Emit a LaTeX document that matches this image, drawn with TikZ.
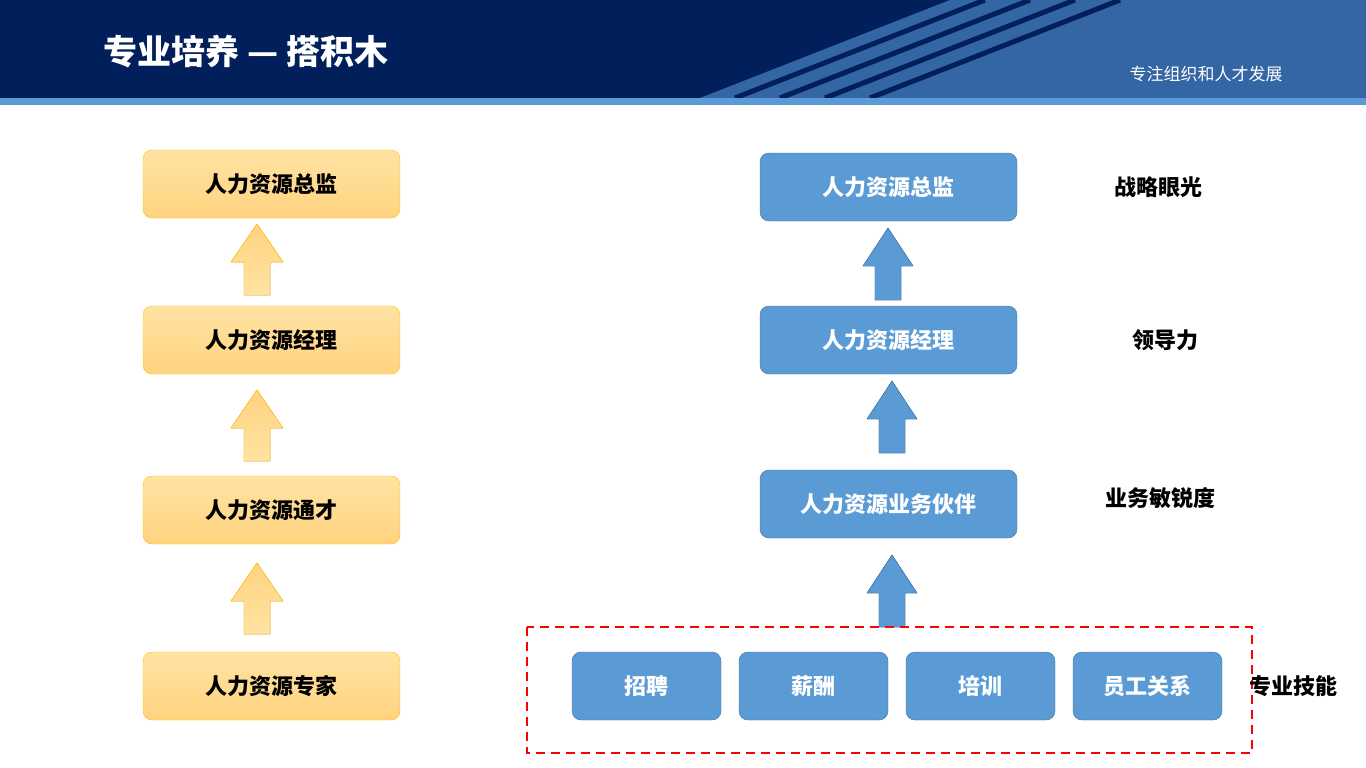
\documentclass[tikz,border=0pt]{standalone}
\usepackage{fontspec}
\setmainfont{Noto Sans CJK SC}
\usetikzlibrary{positioning}
\definecolor{navy}{HTML}{001F5B}
\definecolor{midblue}{HTML}{3465A4}
\definecolor{skyblue}{HTML}{5B9BD5}
\definecolor{boxblue}{HTML}{5B9BD5}
\definecolor{boxedge}{HTML}{41719C}
\definecolor{gold}{HTML}{FFC000}
\definecolor{ylight}{HTML}{FFE3A3}
\definecolor{ydark}{HTML}{FFD37F}
\tikzset{
  ybox/.style={draw=gold, rounded corners=9pt, top color=ylight, bottom color=ydark,
    minimum width=257pt, minimum height=68pt, font=\fontsize{22}{24}\selectfont\bfseries},
  bbox/.style={draw=boxedge, fill=boxblue, rounded corners=9pt, text=white,
    minimum width=257pt, minimum height=68pt, font=\fontsize{22}{24}\selectfont\bfseries},
  sbox/.style={bbox, minimum width=149pt},
  skill/.style={font=\fontsize{22}{24}\selectfont\bfseries}
}
\newcommand{\blockarr}[5]{% x, top y, bottom y, style, half width
  \fill[#4] (#1-#5,#2+38) -- (#1,#2) -- (#1+#5,#2+38) -- (#1+13,#2+38)
    -- (#1+13,#3) -- (#1-13,#3) -- (#1-13,#2+38) -- cycle;
  \draw[#4] (#1-#5,#2+38) -- (#1,#2) -- (#1+#5,#2+38) -- (#1+13,#2+38)
    -- (#1+13,#3) -- (#1-13,#3) -- (#1-13,#2+38) -- cycle;}
\begin{document}
\begin{tikzpicture}[x=1pt,y=-1pt]
\useasboundingbox (0,0) rectangle (1366,768);
% header
\fill[navy] (0,0) rectangle (1366,98);
\fill[midblue] (700,98) -- (950,0) -- (1366,0) -- (1366,98) -- cycle;
\foreach \s in {0,45,90,135}
  \draw[navy, line width=5pt] (735+\s,98) -- (985+\s,0);
\fill[skyblue] (0,98) rectangle (1366,105);
\node[text=white, font=\fontsize{34}{38}\selectfont\bfseries, anchor=west] (title) at (100,52) {专业培养 — 搭积木};
\node[text=white, font=\fontsize{17}{20}\selectfont\itshape] (motto) at (1206,74) {专注组织和人才发展};
% left column
\node[ybox] (l1) at (271.5,184) {人力资源总监};
\node[ybox] (l2) at (271.5,340) {人力资源经理};
\node[ybox] (l3) at (271.5,510) {人力资源通才};
\node[ybox] (l4) at (271.5,686) {人力资源专家};
\blockarr{257}{224}{295}{draw=gold, top color=ydark, bottom color=ylight}{26}
\blockarr{257}{390}{461}{draw=gold, top color=ydark, bottom color=ylight}{26}
\blockarr{257}{563}{634}{draw=gold, top color=ydark, bottom color=ylight}{26}
% right column
\node[bbox] (r1) at (888.5,187) {人力资源总监};
\node[bbox] (r2) at (888.5,340) {人力资源经理};
\node[bbox] (r3) at (888.5,504) {人力资源业务伙伴};
\node[sbox] (s1) at (646.5,686) {招聘};
\node[sbox] (s2) at (813.5,686) {薪酬};
\node[sbox] (s3) at (980.5,686) {培训};
\node[sbox] (s4) at (1147.5,686) {员工关系};
\blockarr{888}{228}{300}{draw=boxedge, fill=boxblue}{25}
\blockarr{892}{381}{453}{draw=boxedge, fill=boxblue}{25}
\blockarr{892}{555}{627}{draw=boxedge, fill=boxblue}{25}
\draw[red, dashed, line width=2pt, dash pattern=on 9pt off 6pt] (527,627) rectangle (1252,753);
% skill labels
\node[skill] (k1) at (1158,187) {战略眼光};
\node[skill] (k2) at (1165,340) {领导力};
\node[skill] (k3) at (1160,498) {业务敏锐度};
\node[skill] (k4) at (1293,686) {专业技能};
\end{tikzpicture}
\end{document}
